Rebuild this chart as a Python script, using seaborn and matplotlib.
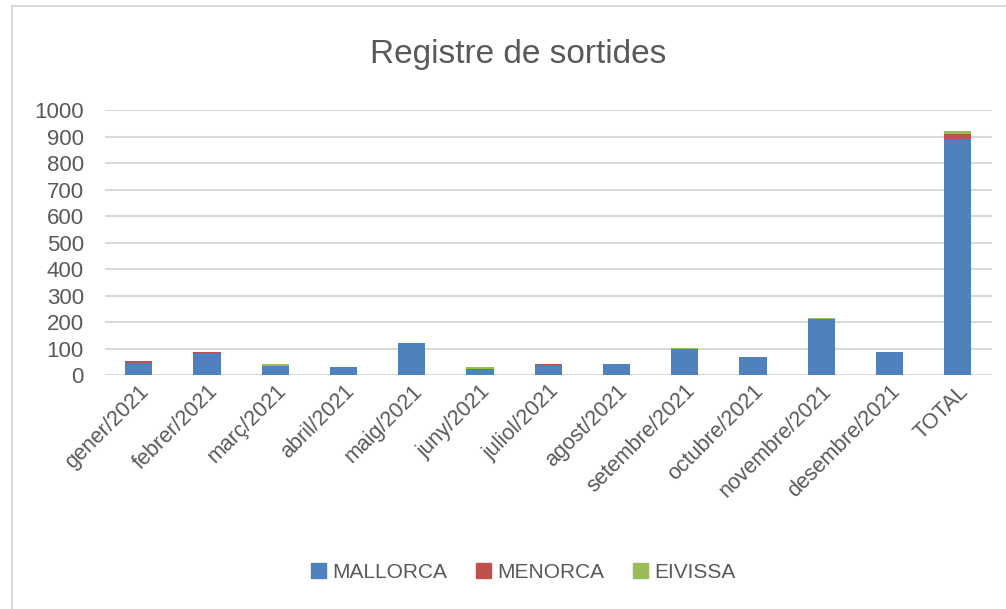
import numpy as np
import pandas as pd
import matplotlib
matplotlib.use("Agg")
import matplotlib.pyplot as plt
import seaborn as sns
from matplotlib.patches import Rectangle, Patch

# ── Dades ──────────────────────────────────────────────
mesos = ["gener/2021", "febrer/2021", "març/2021", "abril/2021", "maig/2021",
         "juny/2021", "juliol/2021", "agost/2021", "setembre/2021",
         "octubre/2021", "novembre/2021", "desembre/2021", "TOTAL"]
mallorca = [47, 82, 36, 31, 123, 21, 37, 42, 98, 68, 211, 87, 893]
menorca  = [5, 5, 0, 0, 0, 4, 5, 0, 0, 0, 0, 0, 19]
eivissa  = [0, 0, 5, 0, 0, 4, 0, 0, 4, 0, 4, 0, 11]

C_BLUE, C_RED, C_GREEN = "#4F81BD", "#C0504D", "#9BBB59"
TXT = "#595959"

sns.set_theme(style="white")
plt.rcParams["font.family"] = ["Liberation Sans", "DejaVu Sans"]

df = pd.DataFrame({"mes": mesos, "mallorca": mallorca,
                   "menorca": menorca, "eivissa": eivissa})
df["c2"] = df["mallorca"] + df["menorca"]
df["c3"] = df["c2"] + df["eivissa"]

fig = plt.figure(figsize=(10.06, 6.09), dpi=100)
ax = fig.add_axes([0.104, 0.384, 0.882, 0.435])

# capes apilades: total primer, després subtotals a sobre
for col, c in [("c3", C_GREEN), ("c2", C_RED), ("mallorca", C_BLUE)]:
    sns.barplot(data=df, x="mes", y=col, order=mesos, color=c, width=0.4,
                saturation=1, edgecolor="none", ax=ax, zorder=3)

ax.set_ylim(0, 1000)
ax.set_yticks(range(0, 1001, 100))
ax.yaxis.grid(True, color="#D9D9D9", lw=1.5, zorder=0)
ax.set_axisbelow(True)
for s in ax.spines.values():
    s.set_visible(False)
ax.set_xlabel(""); ax.set_ylabel("")
ax.tick_params(axis="y", length=0, labelsize=16, labelcolor=TXT, pad=15)
ax.tick_params(axis="x", length=0, labelsize=15.5, labelcolor=TXT, pad=4)
plt.setp(ax.get_xticklabels(), rotation=45, ha="right", rotation_mode="anchor")
ax.set_xlim(-0.5, len(mesos) - 0.5)

fig.text(0.515, 0.91, "Registre de sortides", ha="center", va="center",
         fontsize=24, color=TXT)

handles = [Patch(color=C_BLUE, label="MALLORCA"),
           Patch(color=C_RED, label="MENORCA"),
           Patch(color=C_GREEN, label="EIVISSA")]
fig.legend(handles=handles, loc="center", bbox_to_anchor=(0.52, 0.06), ncol=3,
           frameon=False, fontsize=15, labelcolor=TXT, handlelength=0.7,
           handleheight=0.7, handletextpad=0.3, columnspacing=1.4)

# marc del gràfic
fig.patches.append(Rectangle((12 / 1006, -0.05), 1.1, 1 - 6 / 609 + 0.05,
                             transform=fig.transFigure, fill=False,
                             edgecolor="#D9D9D9", lw=1.5))

fig.savefig("out.png", dpi=100)
